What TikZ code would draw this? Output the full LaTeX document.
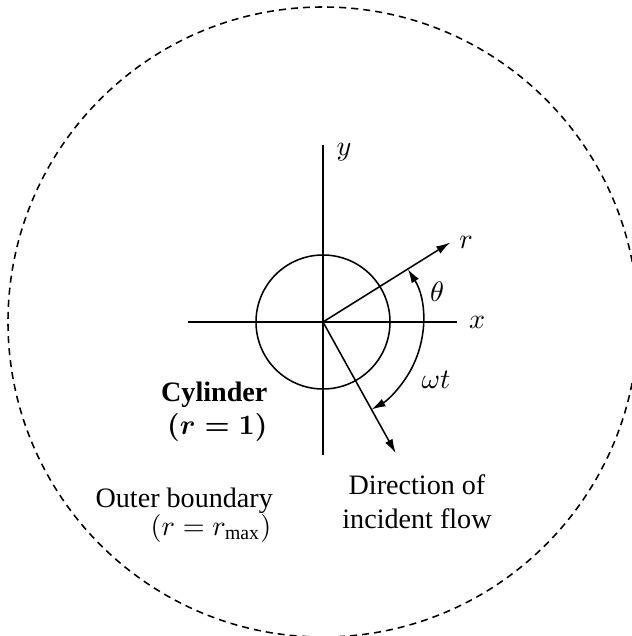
\documentclass[tikz,border=0pt]{standalone}
\usepackage{fontspec}
\setmainfont{Liberation Serif}
\usetikzlibrary{arrows.meta,positioning}
\begin{document}
\begin{tikzpicture}[
  x=0.0125cm, y=0.0125cm,
  every node/.style={inner sep=1pt},
  every path/.style={line width=0.55pt},
  vec/.style={-{Latex[length=5pt,width=3pt]}},
  twovec/.style={{Latex[length=5pt,width=3pt]}-{Latex[length=5pt,width=3pt]}},
  boundary/.style={dash pattern=on 2.5pt off 1.8pt}
]
\useasboundingbox (-323,-314) rectangle (308,322);
\coordinate (origin) at (0,0);
\coordinate (xleft) at (-135,0);
\coordinate (xright) at (134,0);
\coordinate (ytop) at (0,177);
\coordinate (ybottom) at (0,-133);
\coordinate (rtip) at (32:150);
\coordinate (flowtip) at (-61:150);
\draw[boundary] (origin) circle[radius=315];
\draw (origin) circle[radius=67];
\draw (xleft) -- (xright);
\draw (ytop) -- (ybottom);
\draw[vec] (origin) -- (rtip);
\draw[vec] (origin) -- (flowtip);
\draw[twovec] (32:100) arc[start angle=32, end angle=-61, radius=100];
\node (xlabel) [right=3pt of xright] {$x$};
\node (ylabel) [anchor=west] at (10,170) {$y$};
\node (rlabel) [right=2pt of rtip] {$r$};
\node (theta) at (114,30) {$\theta$};
\node (omega) at (113,-58) {$\omega t$};
\node (cylinder) [anchor=north east, align=right, font=\bfseries\boldmath] at (-52,-56) {Cylinder\\$(r = 1)$};
\node (outer) [anchor=base west] at (-231,-185) {Outer boundary};
\node (outerr) [anchor=base west] at (-176,-213) {$(r = r_{\max})$};
\node (flow) [anchor=north, align=center] at (94,-149) {Direction of\\incident flow};
\end{tikzpicture}
\end{document}
